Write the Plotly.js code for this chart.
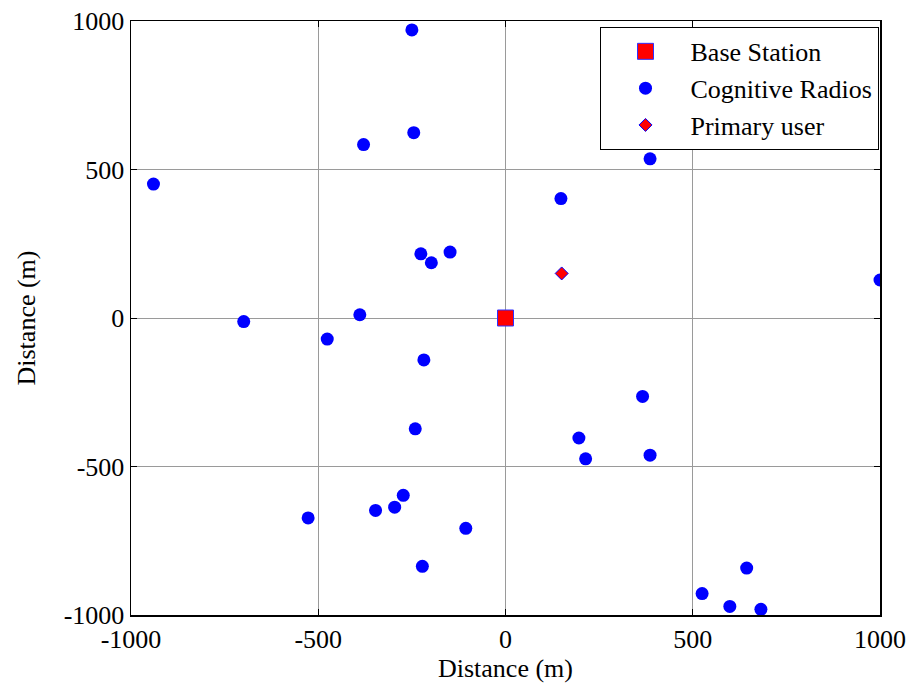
<!DOCTYPE html>
<html>
<head>
<meta charset="utf-8">
<script src="https://cdn.plot.ly/plotly-3.0.1.min.js"></script>
<style>html,body{margin:0;padding:0;background:#fff;}#chart{width:915px;height:686px;}</style>
</head>
<body>
<div id="chart"></div>
<script>
const baseX = [0];
const baseY = [0];
const crX = [-250, -245, -379, -940, -226, -198, -148, -389, -699, -476, -218, -241, -527, -273, -296, -347, -106, -222, 386, 148, 1000, 366, 196, 214, 386, 644, 525, 599, 682];
const crY = [970, 624, 584, 451, 216, 186, 222, 11, -12, -71, -141, -373, -673, -597, -637, -648, -708, -836, 536, 402, 128, -264, -404, -474, -462, -842, -928, -971, -981];
const puX = [150];
const puY = [150];
const tickVals = [-1000, -500, 0, 500, 1000];
const tickText = ['-1000', '-500', '0', '500', '1000'];

const font = {family: '"Liberation Serif", "Times New Roman", serif', size: 26, color: '#000'};

const traces = [
  {x: baseX, y: baseY, type: 'scatter', mode: 'markers', name: 'Base Station',
   marker: {symbol: 'square', size: 16, color: '#ff0000', line: {color: '#3030ff', width: 1}}},
  {x: crX, y: crY, type: 'scatter', mode: 'markers', name: 'Cognitive Radios',
   marker: {symbol: 'circle', size: 13, color: '#0000ff', line: {width: 0}}},
  {x: puX, y: puY, type: 'scatter', mode: 'markers', name: 'Primary user',
   marker: {symbol: 'diamond', size: 10, color: '#ff0000', line: {color: '#0000ff', width: 1}}}
];

const axisCommon = {
  range: [-1000, 1000], tickvals: tickVals, ticktext: tickText,
  showgrid: true, gridcolor: '#9a9a9a', gridwidth: 1, zeroline: false,
  showline: true, linecolor: '#000', linewidth: 1.5, mirror: 'ticks',
  ticks: 'inside', ticklen: 6, tickcolor: '#000', tickfont: font
};

const layout = {
  width: 915, height: 686,
  margin: {l: 131, r: 35, t: 21, b: 71},
  paper_bgcolor: '#fff', plot_bgcolor: '#fff',
  font: font,
  showlegend: true,
  xaxis: Object.assign({}, axisCommon, {title: {text: 'Distance (m)', font: font, standoff: 6}}),
  yaxis: Object.assign({}, axisCommon, {title: {text: 'Distance (m)', font: font, standoff: 20}}),
  legend: {x: 0.998, y: 0.99, xanchor: 'right', yanchor: 'top', bgcolor: '#fff',
           bordercolor: '#000', borderwidth: 1, font: font, itemwidth: 80, tracegroupgap: 0}
};

Plotly.newPlot('chart', traces, layout, {displayModeBar: false, staticPlot: true});
</script>
</body>
</html>
